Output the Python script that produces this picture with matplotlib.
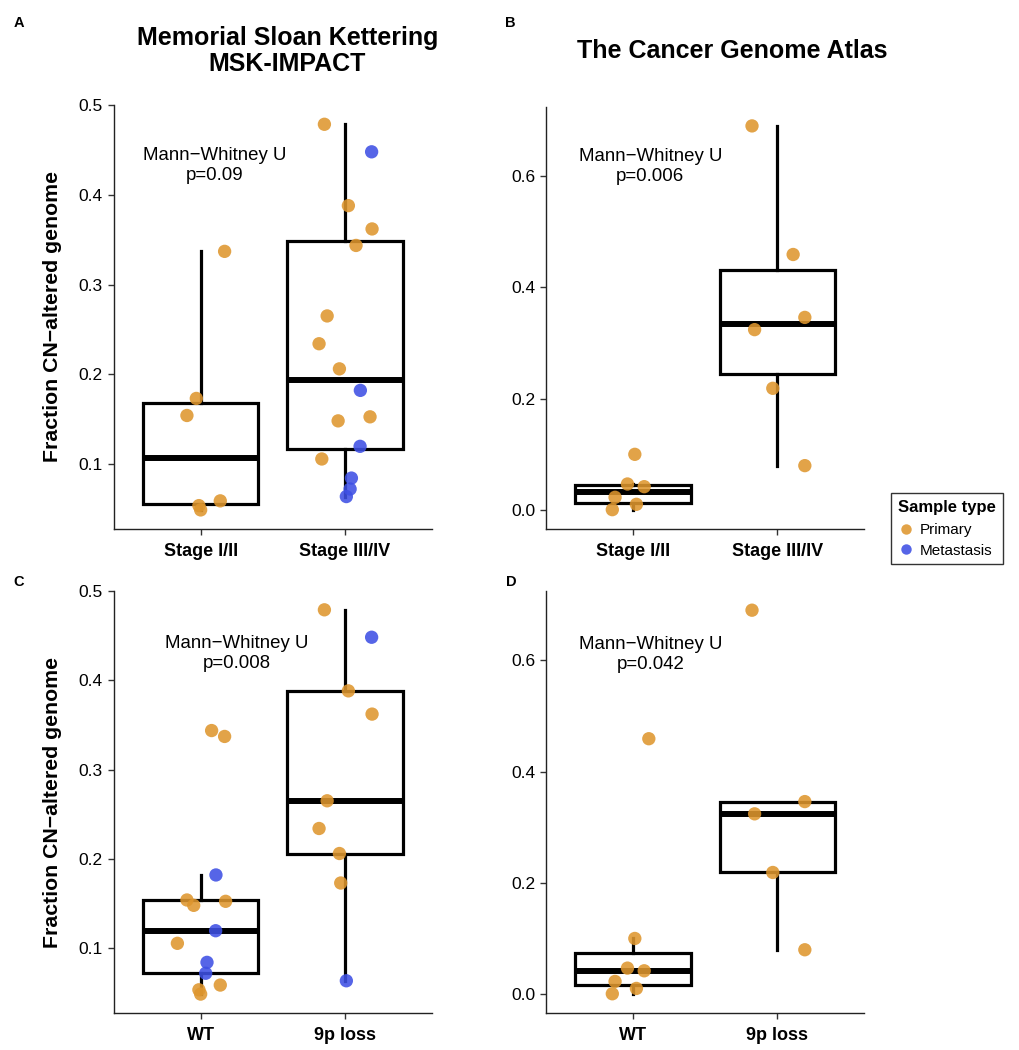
import matplotlib
matplotlib.use("Agg")
import matplotlib.pyplot as plt
from matplotlib.lines import Line2D
import numpy as np

plt.rcParams['font.family'] = ['Liberation Sans', 'DejaVu Sans']

# ---- MSK-IMPACT samples ----
msk_frac = [0.337, 0.173, 0.154, 0.0535, 0.0487, 0.0588,
            0.4787, 0.448, 0.388, 0.362, 0.3436, 0.265, 0.234, 0.206,
            0.182, 0.148, 0.1525, 0.1196, 0.1055, 0.0842, 0.072, 0.0636]
msk_stage = ["Stage I/II"] * 6 + ["Stage III/IV"] * 16
msk_9p = ["WT", "9p loss", "WT", "WT", "WT", "WT",
          "9p loss", "9p loss", "9p loss", "9p loss", "WT", "9p loss", "9p loss", "9p loss",
          "WT", "WT", "WT", "WT", "WT", "WT", "WT", "9p loss"]
msk_type = ["Primary"] * 7 + ["Metastasis"] + ["Primary"] * 6 + \
           ["Metastasis", "Primary", "Primary", "Metastasis", "Primary",
            "Metastasis", "Metastasis", "Metastasis"]
msk_jitter = [0.166, -0.03, -0.095, -0.012, 0.0, 0.136,
              -0.143, 0.184, 0.023, 0.187, 0.076, -0.124, -0.18, -0.039,
              0.106, -0.048, 0.173, 0.104, -0.161, 0.044, 0.035, 0.009]

# ---- TCGA samples (all primary) ----
tcga_frac = [0.100, 0.0467, 0.0419, 0.0228, 0.0102, 0.0006,
             0.690, 0.459, 0.346, 0.324, 0.2186, 0.0797]
tcga_stage = ["Stage I/II"] * 6 + ["Stage III/IV"] * 6
tcga_9p = ["WT"] * 6 + ["9p loss", "WT", "9p loss", "9p loss", "9p loss", "9p loss"]
tcga_type = ["Primary"] * 12
tcga_jitter = [0.012, -0.039, 0.077, -0.125, 0.023, -0.144,
               -0.176, 0.109, 0.19, -0.158, -0.032, 0.19]

stage_levels = ["Stage I/II", "Stage III/IV"]
status_levels = ["WT", "9p loss"]
pvals = {"A": "0.09", "B": "0.006", "C": "0.008", "D": "0.042"}

colors = {"Primary": "#DE962E", "Metastasis": "#3E50E4"}

W, H = 1020, 1050
fig = plt.figure(figsize=(W / 100, H / 100), dpi=100)


def px_axes(l, t, r, b):
    return fig.add_axes([l / W, 1 - b / H, (r - l) / W, (b - t) / H])


def panel(ax, frac, groups, levels, types, jitter, yticks, ylim, ptext, txy):
    frac = np.array(frac)
    groups = np.array(groups)
    data = [frac[groups == lv] for lv in levels]
    ax.boxplot(data, positions=[1, 2], widths=0.8, whis=1.5, showfliers=False,
               showcaps=False, patch_artist=True,
               boxprops=dict(facecolor="white", edgecolor="black", linewidth=2.3),
               whiskerprops=dict(color="black", linewidth=2.3),
               medianprops=dict(color="black", linewidth=4.3),
               zorder=1)
    xs = np.array([levels.index(g) + 1 for g in groups]) + np.array(jitter)
    cs = [colors[t] for t in types]
    ax.scatter(xs, frac, s=92, c=cs, alpha=0.88, edgecolors="none", zorder=3)
    ax.set_xlim(0.4, 2.6)
    ax.set_ylim(*ylim)
    ax.set_xticks([1, 2])
    ax.set_xticklabels(levels, fontsize=13, fontweight="bold")
    ax.set_yticks(yticks)
    ax.set_yticklabels(["%.1f" % v for v in yticks], fontsize=12.5)
    for s in ["top", "right"]:
        ax.spines[s].set_visible(False)
    for s in ["left", "bottom"]:
        ax.spines[s].set_linewidth(1.0)
        ax.spines[s].set_color("#222222")
    ax.tick_params(length=4, width=1, color="#333333")
    ax.tick_params(axis="x", pad=6)
    ax.tick_params(axis="y", pad=4)
    ax.text(txy[0], txy[1], "Mann\u2212Whitney U\np=" + ptext, ha="center", va="center",
            fontsize=13.4, linespacing=1.2, zorder=4)


yl_msk = (0.0272, 0.5002)
yl_tcga = (-0.0345, 0.7245)
yt_msk = [0.1, 0.2, 0.3, 0.4, 0.5]
yt_tcga = [0.0, 0.2, 0.4, 0.6]

axA = px_axes(114, 105, 431.7, 529.2)
panel(axA, msk_frac, msk_stage, stage_levels, msk_type, msk_jitter,
      yt_msk, yl_msk, pvals["A"], (1.097, 0.433))
axB = px_axes(546.5, 106.7, 864, 529.2)
panel(axB, tcga_frac, tcga_stage, stage_levels, tcga_type, tcga_jitter,
      yt_tcga, yl_tcga, pvals["B"], (1.12, 0.617))
axC = px_axes(114, 590.6, 431.7, 1013.3)
panel(axC, msk_frac, msk_9p, status_levels, msk_type, msk_jitter,
      yt_msk, yl_msk, pvals["C"], (1.25, 0.430))
axD = px_axes(546.5, 591, 864, 1013.3)
panel(axD, tcga_frac, tcga_9p, status_levels, tcga_type, tcga_jitter,
      yt_tcga, yl_tcga, pvals["D"], (1.12, 0.610))

# y labels
for yc in [317, 802]:
    fig.text(53 / W, 1 - yc / H, "Fraction CN\u2212altered genome", rotation=90,
             ha="center", va="center", fontsize=15.3, fontweight="bold")

# titles
fig.text(287.5 / W, 1 - 37.5 / H, "Memorial Sloan Kettering", ha="center", va="center",
         fontsize=18, fontweight="bold")
fig.text(287.5 / W, 1 - 64 / H, "MSK-IMPACT", ha="center", va="center",
         fontsize=18, fontweight="bold")
fig.text(732 / W, 1 - 51.5 / H, "The Cancer Genome Atlas", ha="center", va="center",
         fontsize=18, fontweight="bold")

# panel letters
for lab, x, y in [("A", 18.5, 23), ("B", 510, 23), ("C", 18.5, 582), ("D", 511, 582)]:
    fig.text(x / W, 1 - y / H, lab, ha="center", va="center", fontsize=10.5, fontweight="bold")

# legend
handles = [Line2D([], [], marker="o", linestyle="none", markersize=7.5,
                  markerfacecolor=colors[k], markeredgecolor="none", alpha=0.88)
           for k in ["Primary", "Metastasis"]]
leg = fig.legend(handles, ["Primary", "Metastasis"], title="Sample type",
                 loc="upper left", bbox_to_anchor=(891 / W, 1 - 493 / H),
                 frameon=True, fancybox=False, fontsize=11,
                 title_fontproperties={"weight": "bold", "size": 12},
                 alignment="left", handletextpad=0.3, handlelength=1.1,
                 borderpad=0.45, labelspacing=0.42, borderaxespad=0)
leg._legend_box.sep = 6  # extra gap under the legend title
leg.get_frame().set_edgecolor("black")
leg.get_frame().set_linewidth(1.0)

fig.savefig("out.png", dpi=100)
